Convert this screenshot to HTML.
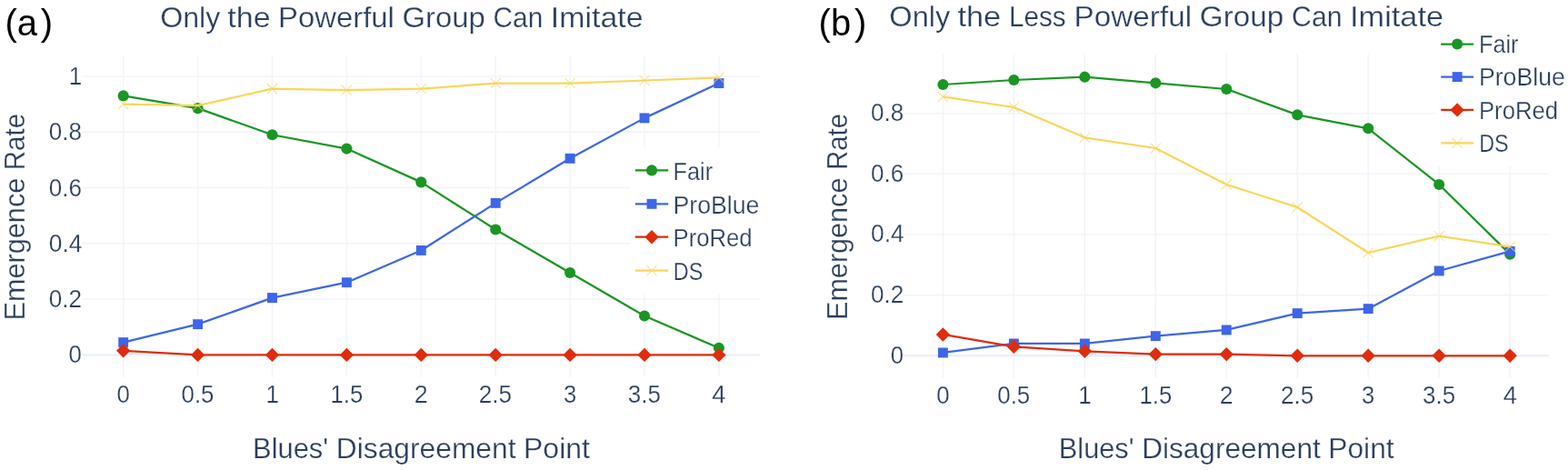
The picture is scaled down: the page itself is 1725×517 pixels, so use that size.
<!DOCTYPE html>
<html lang="en">
<head>
<meta charset="utf-8">
<title>Emergence Rate vs Blues' Disagreement Point</title>
<style>
html,body{margin:0;padding:0;background:#fff;}
body{width:1725px;height:517px;overflow:hidden;}
svg{display:block;filter:blur(0.4px);}
text{font-family:"Liberation Sans", sans-serif;stroke:#fff;stroke-width:0.25px;}
text.panel{stroke:none;}
</style>
</head>
<body>
<svg width="1725" height="517" viewBox="0 0 1725 517">
<rect width="1725" height="517" fill="#fff"/>
<g class="chart chart-0">
<g class="grid" stroke="#f2f4fa" stroke-width="1.5" fill="none">
<line x1="135.7" y1="61.0" x2="135.7" y2="414.8"/>
<line x1="217.6" y1="61.0" x2="217.6" y2="414.8"/>
<line x1="299.5" y1="61.0" x2="299.5" y2="414.8"/>
<line x1="381.4" y1="61.0" x2="381.4" y2="414.8"/>
<line x1="463.3" y1="61.0" x2="463.3" y2="414.8"/>
<line x1="545.2" y1="61.0" x2="545.2" y2="414.8"/>
<line x1="627.1" y1="61.0" x2="627.1" y2="414.8"/>
<line x1="709" y1="61.0" x2="709" y2="414.8"/>
<line x1="790.9" y1="61.0" x2="790.9" y2="414.8"/>
<line x1="91.0" y1="329.1" x2="836.0" y2="329.1"/>
<line x1="91.0" y1="267.8" x2="836.0" y2="267.8"/>
<line x1="91.0" y1="206.5" x2="836.0" y2="206.5"/>
<line x1="91.0" y1="145.2" x2="836.0" y2="145.2"/>
<line x1="91.0" y1="83.9" x2="836.0" y2="83.9"/>
</g>
<line class="zeroline" x1="91.0" y1="390.4" x2="836.0" y2="390.4" stroke="#ebf0f8" stroke-width="2.4"/>
<g class="trace">
<polyline points="135.7,105.35 217.6,119.15 299.5,148.26 381.4,163.59 463.3,200.37 545.2,252.47 627.1,299.98 709,347.49 790.9,382.74" fill="none" stroke="#1a9622" stroke-width="2.25" stroke-linejoin="round"/>
<circle cx="135.7" cy="105.35" r="6.05" fill="#1a9622"/>
<circle cx="217.6" cy="119.15" r="6.05" fill="#1a9622"/>
<circle cx="299.5" cy="148.26" r="6.05" fill="#1a9622"/>
<circle cx="381.4" cy="163.59" r="6.05" fill="#1a9622"/>
<circle cx="463.3" cy="200.37" r="6.05" fill="#1a9622"/>
<circle cx="545.2" cy="252.47" r="6.05" fill="#1a9622"/>
<circle cx="627.1" cy="299.98" r="6.05" fill="#1a9622"/>
<circle cx="709" cy="347.49" r="6.05" fill="#1a9622"/>
<circle cx="790.9" cy="382.74" r="6.05" fill="#1a9622"/>
</g>
<g class="trace">
<polyline points="135.7,376.61 217.6,356.68 299.5,327.57 381.4,310.71 463.3,275.46 545.2,223.36 627.1,174.32 709,129.88 790.9,91.56" fill="none" stroke="#3d66e8" stroke-width="2.25" stroke-linejoin="round"/>
<rect x="130.25" y="371.16" width="10.9" height="10.9" fill="#3d66e8"/>
<rect x="212.15" y="351.23" width="10.9" height="10.9" fill="#3d66e8"/>
<rect x="294.05" y="322.12" width="10.9" height="10.9" fill="#3d66e8"/>
<rect x="375.95" y="305.26" width="10.9" height="10.9" fill="#3d66e8"/>
<rect x="457.85" y="270.01" width="10.9" height="10.9" fill="#3d66e8"/>
<rect x="539.75" y="217.91" width="10.9" height="10.9" fill="#3d66e8"/>
<rect x="621.65" y="168.87" width="10.9" height="10.9" fill="#3d66e8"/>
<rect x="703.55" y="124.42" width="10.9" height="10.9" fill="#3d66e8"/>
<rect x="785.45" y="86.11" width="10.9" height="10.9" fill="#3d66e8"/>
</g>
<g class="trace">
<polyline points="135.7,385.8 217.6,390.4 299.5,390.4 381.4,390.4 463.3,390.4 545.2,390.4 627.1,390.4 709,390.4 790.9,390.4" fill="none" stroke="#e02c0b" stroke-width="2.25" stroke-linejoin="round"/>
<path d="M135.7 378.1L143.4 385.8L135.7 393.5L128 385.8Z" fill="#e02c0b"/>
<path d="M217.6 382.7L225.3 390.4L217.6 398.1L209.9 390.4Z" fill="#e02c0b"/>
<path d="M299.5 382.7L307.2 390.4L299.5 398.1L291.8 390.4Z" fill="#e02c0b"/>
<path d="M381.4 382.7L389.1 390.4L381.4 398.1L373.7 390.4Z" fill="#e02c0b"/>
<path d="M463.3 382.7L471 390.4L463.3 398.1L455.6 390.4Z" fill="#e02c0b"/>
<path d="M545.2 382.7L552.9 390.4L545.2 398.1L537.5 390.4Z" fill="#e02c0b"/>
<path d="M627.1 382.7L634.8 390.4L627.1 398.1L619.4 390.4Z" fill="#e02c0b"/>
<path d="M709 382.7L716.7 390.4L709 398.1L701.3 390.4Z" fill="#e02c0b"/>
<path d="M790.9 382.7L798.6 390.4L790.9 398.1L783.2 390.4Z" fill="#e02c0b"/>
</g>
<g class="trace">
<polyline points="135.7,114.55 217.6,116.08 299.5,97.69 381.4,99.22 463.3,97.69 545.2,91.56 627.1,91.56 709,88.5 790.9,85.43" fill="none" stroke="#fad65c" stroke-width="2.25" stroke-linejoin="round"/>
<path d="M130.1 108.95L141.3 120.15M130.1 120.15L141.3 108.95" stroke="#fad65c" stroke-width="1.0" fill="none"/>
<path d="M212 110.48L223.2 121.68M212 121.68L223.2 110.48" stroke="#fad65c" stroke-width="1.0" fill="none"/>
<path d="M293.9 92.09L305.1 103.29M293.9 103.29L305.1 92.09" stroke="#fad65c" stroke-width="1.0" fill="none"/>
<path d="M375.8 93.62L387 104.82M375.8 104.82L387 93.62" stroke="#fad65c" stroke-width="1.0" fill="none"/>
<path d="M457.7 92.09L468.9 103.29M457.7 103.29L468.9 92.09" stroke="#fad65c" stroke-width="1.0" fill="none"/>
<path d="M539.6 85.96L550.8 97.16M539.6 97.16L550.8 85.96" stroke="#fad65c" stroke-width="1.0" fill="none"/>
<path d="M621.5 85.96L632.7 97.16M621.5 97.16L632.7 85.96" stroke="#fad65c" stroke-width="1.0" fill="none"/>
<path d="M703.4 82.9L714.6 94.1M703.4 94.1L714.6 82.9" stroke="#fad65c" stroke-width="1.0" fill="none"/>
<path d="M785.3 79.83L796.5 91.03M785.3 91.03L796.5 79.83" stroke="#fad65c" stroke-width="1.0" fill="none"/>
</g>
<g class="legend">
<rect x="693.0" y="162.3" width="147" height="160.4" fill="#fff"/>
<line x1="698.8" y1="187.4" x2="735.2" y2="187.4" stroke="#1a9622" stroke-width="2.25"/>
<circle cx="717" cy="187.4" r="6.05" fill="#1a9622"/>
<text x="740.6" y="197.8" font-size="28" fill="#2a3f5f" textLength="43.47" lengthAdjust="spacingAndGlyphs">Fair</text>
<line x1="698.8" y1="224.3" x2="735.2" y2="224.3" stroke="#3d66e8" stroke-width="2.25"/>
<rect x="711.55" y="218.85" width="10.9" height="10.9" fill="#3d66e8"/>
<text x="740.48" y="234.7" font-size="28" fill="#2a3f5f" textLength="94.95" lengthAdjust="spacingAndGlyphs">ProBlue</text>
<line x1="698.8" y1="260.7" x2="735.2" y2="260.7" stroke="#e02c0b" stroke-width="2.25"/>
<path d="M717 253L724.7 260.7L717 268.4L709.3 260.7Z" fill="#e02c0b"/>
<text x="740.57" y="271.1" font-size="28" fill="#2a3f5f" textLength="87.02" lengthAdjust="spacingAndGlyphs">ProRed</text>
<line x1="698.8" y1="297.6" x2="735.2" y2="297.6" stroke="#fad65c" stroke-width="2.25"/>
<path d="M711.4 292L722.6 303.2M711.4 303.2L722.6 292" stroke="#fad65c" stroke-width="1.0" fill="none"/>
<text x="740.76" y="308" font-size="28" fill="#2a3f5f" textLength="32.47" lengthAdjust="spacingAndGlyphs">DS</text>
</g>
<g class="xticks">
<text x="128.54" y="442.6" font-size="28" fill="#2a3f5f" textLength="14.31" lengthAdjust="spacingAndGlyphs">0</text>
<text x="199.54" y="442.6" font-size="28" fill="#2a3f5f" textLength="35.96" lengthAdjust="spacingAndGlyphs">0.5</text>
<text x="292.42" y="442.6" font-size="28" fill="#2a3f5f" textLength="14.48" lengthAdjust="spacingAndGlyphs">1</text>
<text x="363.55" y="442.6" font-size="28" fill="#2a3f5f" textLength="35.75" lengthAdjust="spacingAndGlyphs">1.5</text>
<text x="455.83" y="442.6" font-size="28" fill="#2a3f5f" textLength="14.86" lengthAdjust="spacingAndGlyphs">2</text>
<text x="526.87" y="442.6" font-size="28" fill="#2a3f5f" textLength="36.24" lengthAdjust="spacingAndGlyphs">2.5</text>
<text x="619.88" y="442.6" font-size="28" fill="#2a3f5f" textLength="14.23" lengthAdjust="spacingAndGlyphs">3</text>
<text x="690.87" y="442.6" font-size="28" fill="#2a3f5f" textLength="36.03" lengthAdjust="spacingAndGlyphs">3.5</text>
<text x="783.37" y="442.6" font-size="28" fill="#2a3f5f" textLength="15.25" lengthAdjust="spacingAndGlyphs">4</text>
</g>
<g class="yticks">
<text x="75.6" y="399.4" font-size="28" fill="#2a3f5f" textLength="14.31" lengthAdjust="spacingAndGlyphs">0</text>
<text x="53.8" y="338.1" font-size="28" fill="#2a3f5f" textLength="36.31" lengthAdjust="spacingAndGlyphs">0.2</text>
<text x="53.79" y="276.8" font-size="28" fill="#2a3f5f" textLength="36.65" lengthAdjust="spacingAndGlyphs">0.4</text>
<text x="53.8" y="215.5" font-size="28" fill="#2a3f5f" textLength="36.24" lengthAdjust="spacingAndGlyphs">0.6</text>
<text x="53.81" y="154.2" font-size="28" fill="#2a3f5f" textLength="36.17" lengthAdjust="spacingAndGlyphs">0.8</text>
<text x="75.69" y="92.9" font-size="28" fill="#2a3f5f" textLength="14.48" lengthAdjust="spacingAndGlyphs">1</text>
</g>
<text class="title" y="29.6" font-size="32" fill="#2a3f5f" xml:space="preserve"><tspan x="176.17" textLength="66.21" lengthAdjust="spacingAndGlyphs">Only</tspan> <tspan x="250.33" textLength="47.22" lengthAdjust="spacingAndGlyphs">the</tspan> <tspan x="305.98" textLength="127.92" lengthAdjust="spacingAndGlyphs">Powerful</tspan> <tspan x="442.59" textLength="91.21" lengthAdjust="spacingAndGlyphs">Group</tspan> <tspan x="542.56" textLength="54.81" lengthAdjust="spacingAndGlyphs">Can</tspan> <tspan x="605.83" textLength="101.65" lengthAdjust="spacingAndGlyphs">Imitate</tspan></text>
<text class="xtitle" y="503.7" font-size="31.6" fill="#2a3f5f" xml:space="preserve"><tspan x="278.05" textLength="83.16" lengthAdjust="spacingAndGlyphs">Blues&#39;</tspan> <tspan x="369.85" textLength="197.68" lengthAdjust="spacingAndGlyphs">Disagreement</tspan> <tspan x="576.08" textLength="72.77" lengthAdjust="spacingAndGlyphs">Point</tspan></text>
<text class="ytitle" transform="translate(26.8,350) rotate(-90)" y="0" font-size="31.6" fill="#2a3f5f" xml:space="preserve"><tspan x="-2.53" textLength="156.8" lengthAdjust="spacingAndGlyphs">Emergence</tspan> <tspan x="162.82" textLength="62.27" lengthAdjust="spacingAndGlyphs">Rate</tspan></text>
<text class="panel" x="5.5 18.7 44.8" y="39.0" font-size="40" fill="#000">(a)</text>
</g>
<g class="chart chart-1">
<g class="grid" stroke="#f2f4fa" stroke-width="1.5" fill="none">
<line x1="1037.4" y1="59.3" x2="1037.4" y2="416.0"/>
<line x1="1115.37" y1="59.3" x2="1115.37" y2="416.0"/>
<line x1="1193.34" y1="59.3" x2="1193.34" y2="416.0"/>
<line x1="1271.31" y1="59.3" x2="1271.31" y2="416.0"/>
<line x1="1349.28" y1="59.3" x2="1349.28" y2="416.0"/>
<line x1="1427.25" y1="59.3" x2="1427.25" y2="416.0"/>
<line x1="1505.22" y1="59.3" x2="1505.22" y2="416.0"/>
<line x1="1583.19" y1="59.3" x2="1583.19" y2="416.0"/>
<line x1="1661.16" y1="59.3" x2="1661.16" y2="416.0"/>
<line x1="995.0" y1="324.64" x2="1704.0" y2="324.64"/>
<line x1="995.0" y1="257.98" x2="1704.0" y2="257.98"/>
<line x1="995.0" y1="191.32" x2="1704.0" y2="191.32"/>
<line x1="995.0" y1="124.66" x2="1704.0" y2="124.66"/>
</g>
<line class="zeroline" x1="995.0" y1="391.3" x2="1704.0" y2="391.3" stroke="#ebf0f8" stroke-width="2.4"/>
<g class="trace">
<polyline points="1037.4,93 1115.37,88 1193.34,84.66 1271.31,91.33 1349.28,98 1427.25,126.33 1505.22,141.32 1583.19,202.99 1661.16,279.64" fill="none" stroke="#1a9622" stroke-width="2.25" stroke-linejoin="round"/>
<circle cx="1037.4" cy="93" r="6.05" fill="#1a9622"/>
<circle cx="1115.37" cy="88" r="6.05" fill="#1a9622"/>
<circle cx="1193.34" cy="84.66" r="6.05" fill="#1a9622"/>
<circle cx="1271.31" cy="91.33" r="6.05" fill="#1a9622"/>
<circle cx="1349.28" cy="98" r="6.05" fill="#1a9622"/>
<circle cx="1427.25" cy="126.33" r="6.05" fill="#1a9622"/>
<circle cx="1505.22" cy="141.32" r="6.05" fill="#1a9622"/>
<circle cx="1583.19" cy="202.99" r="6.05" fill="#1a9622"/>
<circle cx="1661.16" cy="279.64" r="6.05" fill="#1a9622"/>
</g>
<g class="trace">
<polyline points="1037.4,387.97 1115.37,377.97 1193.34,377.97 1271.31,369.64 1349.28,362.97 1427.25,344.64 1505.22,339.64 1583.19,297.98 1661.16,276.31" fill="none" stroke="#3d66e8" stroke-width="2.25" stroke-linejoin="round"/>
<rect x="1031.95" y="382.52" width="10.9" height="10.9" fill="#3d66e8"/>
<rect x="1109.92" y="372.52" width="10.9" height="10.9" fill="#3d66e8"/>
<rect x="1187.89" y="372.52" width="10.9" height="10.9" fill="#3d66e8"/>
<rect x="1265.86" y="364.19" width="10.9" height="10.9" fill="#3d66e8"/>
<rect x="1343.83" y="357.52" width="10.9" height="10.9" fill="#3d66e8"/>
<rect x="1421.8" y="339.19" width="10.9" height="10.9" fill="#3d66e8"/>
<rect x="1499.77" y="334.19" width="10.9" height="10.9" fill="#3d66e8"/>
<rect x="1577.74" y="292.53" width="10.9" height="10.9" fill="#3d66e8"/>
<rect x="1655.71" y="270.86" width="10.9" height="10.9" fill="#3d66e8"/>
</g>
<g class="trace">
<polyline points="1037.4,367.97 1115.37,381.3 1193.34,386.3 1271.31,389.63 1349.28,389.63 1427.25,391.3 1505.22,391.3 1583.19,391.3 1661.16,391.3" fill="none" stroke="#e02c0b" stroke-width="2.25" stroke-linejoin="round"/>
<path d="M1037.4 360.27L1045.1 367.97L1037.4 375.67L1029.7 367.97Z" fill="#e02c0b"/>
<path d="M1115.37 373.6L1123.07 381.3L1115.37 389L1107.67 381.3Z" fill="#e02c0b"/>
<path d="M1193.34 378.6L1201.04 386.3L1193.34 394L1185.64 386.3Z" fill="#e02c0b"/>
<path d="M1271.31 381.93L1279.01 389.63L1271.31 397.33L1263.61 389.63Z" fill="#e02c0b"/>
<path d="M1349.28 381.93L1356.98 389.63L1349.28 397.33L1341.58 389.63Z" fill="#e02c0b"/>
<path d="M1427.25 383.6L1434.95 391.3L1427.25 399L1419.55 391.3Z" fill="#e02c0b"/>
<path d="M1505.22 383.6L1512.92 391.3L1505.22 399L1497.52 391.3Z" fill="#e02c0b"/>
<path d="M1583.19 383.6L1590.89 391.3L1583.19 399L1575.49 391.3Z" fill="#e02c0b"/>
<path d="M1661.16 383.6L1668.86 391.3L1661.16 399L1653.46 391.3Z" fill="#e02c0b"/>
</g>
<g class="trace">
<polyline points="1037.4,106.33 1115.37,117.99 1193.34,151.32 1271.31,162.99 1349.28,202.99 1427.25,227.98 1505.22,277.98 1583.19,259.65 1661.16,271.31" fill="none" stroke="#fad65c" stroke-width="2.25" stroke-linejoin="round"/>
<path d="M1031.8 100.73L1043 111.93M1031.8 111.93L1043 100.73" stroke="#fad65c" stroke-width="1.0" fill="none"/>
<path d="M1109.77 112.39L1120.97 123.59M1109.77 123.59L1120.97 112.39" stroke="#fad65c" stroke-width="1.0" fill="none"/>
<path d="M1187.74 145.72L1198.94 156.92M1187.74 156.92L1198.94 145.72" stroke="#fad65c" stroke-width="1.0" fill="none"/>
<path d="M1265.71 157.39L1276.91 168.59M1265.71 168.59L1276.91 157.39" stroke="#fad65c" stroke-width="1.0" fill="none"/>
<path d="M1343.68 197.39L1354.88 208.59M1343.68 208.59L1354.88 197.39" stroke="#fad65c" stroke-width="1.0" fill="none"/>
<path d="M1421.65 222.38L1432.85 233.58M1421.65 233.58L1432.85 222.38" stroke="#fad65c" stroke-width="1.0" fill="none"/>
<path d="M1499.62 272.38L1510.82 283.58M1499.62 283.58L1510.82 272.38" stroke="#fad65c" stroke-width="1.0" fill="none"/>
<path d="M1577.59 254.05L1588.79 265.25M1577.59 265.25L1588.79 254.05" stroke="#fad65c" stroke-width="1.0" fill="none"/>
<path d="M1655.56 265.71L1666.76 276.91M1655.56 276.91L1666.76 265.71" stroke="#fad65c" stroke-width="1.0" fill="none"/>
</g>
<g class="legend">
<rect x="1579.0" y="23.5" width="146" height="159.5" fill="#fff"/>
<line x1="1585.2" y1="48.5" x2="1621.1" y2="48.5" stroke="#1a9622" stroke-width="2.25"/>
<circle cx="1603.15" cy="48.5" r="6.05" fill="#1a9622"/>
<text x="1627" y="58.3" font-size="28" fill="#2a3f5f" textLength="43.47" lengthAdjust="spacingAndGlyphs">Fair</text>
<line x1="1585.2" y1="84.6" x2="1621.1" y2="84.6" stroke="#3d66e8" stroke-width="2.25"/>
<rect x="1597.7" y="79.15" width="10.9" height="10.9" fill="#3d66e8"/>
<text x="1626.88" y="94.4" font-size="28" fill="#2a3f5f" textLength="94.95" lengthAdjust="spacingAndGlyphs">ProBlue</text>
<line x1="1585.2" y1="120.9" x2="1621.1" y2="120.9" stroke="#e02c0b" stroke-width="2.25"/>
<path d="M1603.15 113.2L1610.85 120.9L1603.15 128.6L1595.45 120.9Z" fill="#e02c0b"/>
<text x="1626.97" y="130.7" font-size="28" fill="#2a3f5f" textLength="87.02" lengthAdjust="spacingAndGlyphs">ProRed</text>
<line x1="1585.2" y1="157.4" x2="1621.1" y2="157.4" stroke="#fad65c" stroke-width="2.25"/>
<path d="M1597.55 151.8L1608.75 163M1597.55 163L1608.75 151.8" stroke="#fad65c" stroke-width="1.0" fill="none"/>
<text x="1627.16" y="167.2" font-size="28" fill="#2a3f5f" textLength="32.47" lengthAdjust="spacingAndGlyphs">DS</text>
</g>
<g class="xticks">
<text x="1030.24" y="443.6" font-size="28" fill="#2a3f5f" textLength="14.31" lengthAdjust="spacingAndGlyphs">0</text>
<text x="1097.31" y="443.6" font-size="28" fill="#2a3f5f" textLength="35.96" lengthAdjust="spacingAndGlyphs">0.5</text>
<text x="1186.26" y="443.6" font-size="28" fill="#2a3f5f" textLength="14.48" lengthAdjust="spacingAndGlyphs">1</text>
<text x="1253.46" y="443.6" font-size="28" fill="#2a3f5f" textLength="35.75" lengthAdjust="spacingAndGlyphs">1.5</text>
<text x="1341.81" y="443.6" font-size="28" fill="#2a3f5f" textLength="14.86" lengthAdjust="spacingAndGlyphs">2</text>
<text x="1408.92" y="443.6" font-size="28" fill="#2a3f5f" textLength="36.24" lengthAdjust="spacingAndGlyphs">2.5</text>
<text x="1498" y="443.6" font-size="28" fill="#2a3f5f" textLength="14.23" lengthAdjust="spacingAndGlyphs">3</text>
<text x="1565.06" y="443.6" font-size="28" fill="#2a3f5f" textLength="36.03" lengthAdjust="spacingAndGlyphs">3.5</text>
<text x="1653.63" y="443.6" font-size="28" fill="#2a3f5f" textLength="15.25" lengthAdjust="spacingAndGlyphs">4</text>
</g>
<g class="yticks">
<text x="979.8" y="399.6" font-size="28" fill="#2a3f5f" textLength="14.31" lengthAdjust="spacingAndGlyphs">0</text>
<text x="958" y="332.94" font-size="28" fill="#2a3f5f" textLength="36.31" lengthAdjust="spacingAndGlyphs">0.2</text>
<text x="957.99" y="266.28" font-size="28" fill="#2a3f5f" textLength="36.65" lengthAdjust="spacingAndGlyphs">0.4</text>
<text x="958" y="199.62" font-size="28" fill="#2a3f5f" textLength="36.24" lengthAdjust="spacingAndGlyphs">0.6</text>
<text x="958.01" y="132.96" font-size="28" fill="#2a3f5f" textLength="36.17" lengthAdjust="spacingAndGlyphs">0.8</text>
</g>
<text class="title" y="28.8" font-size="32" fill="#2a3f5f" xml:space="preserve"><tspan x="978.35" textLength="67.02" lengthAdjust="spacingAndGlyphs">Only</tspan> <tspan x="1053.42" textLength="47.79" lengthAdjust="spacingAndGlyphs">the</tspan> <tspan x="1110.05" textLength="62.66" lengthAdjust="spacingAndGlyphs">Less</tspan> <tspan x="1181.59" textLength="129.49" lengthAdjust="spacingAndGlyphs">Powerful</tspan> <tspan x="1319.87" textLength="92.33" lengthAdjust="spacingAndGlyphs">Group</tspan> <tspan x="1421.06" textLength="55.48" lengthAdjust="spacingAndGlyphs">Can</tspan> <tspan x="1485.1" textLength="102.9" lengthAdjust="spacingAndGlyphs">Imitate</tspan></text>
<text class="xtitle" y="503.7" font-size="31.6" fill="#2a3f5f" xml:space="preserve"><tspan x="1164.87" textLength="82.71" lengthAdjust="spacingAndGlyphs">Blues&#39;</tspan> <tspan x="1256.16" textLength="196.6" lengthAdjust="spacingAndGlyphs">Disagreement</tspan> <tspan x="1461.28" textLength="72.37" lengthAdjust="spacingAndGlyphs">Point</tspan></text>
<text class="ytitle" transform="translate(932.2,349.5) rotate(-90)" y="0" font-size="31.6" fill="#2a3f5f" xml:space="preserve"><tspan x="-2.52" textLength="156.45" lengthAdjust="spacingAndGlyphs">Emergence</tspan> <tspan x="162.46" textLength="62.13" lengthAdjust="spacingAndGlyphs">Rate</tspan></text>
<text class="panel" x="900.5 914 940.1" y="38.5" font-size="40" fill="#000">(b)</text>
</g>
</svg>
</body>
</html>
